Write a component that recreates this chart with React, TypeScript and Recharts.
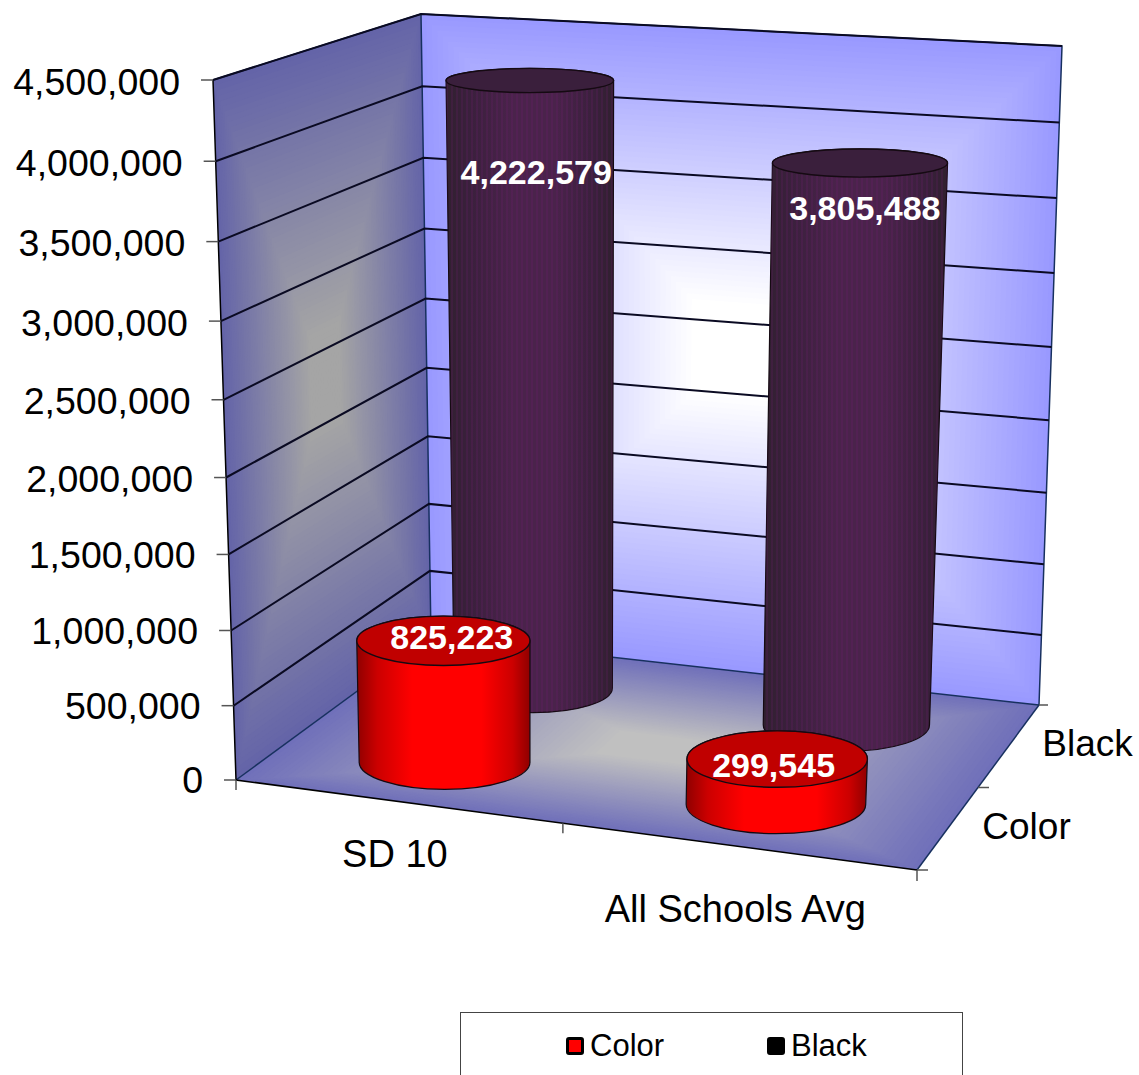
import {
  Bar,
  BarChart,
  CartesianGrid,
  Customized,
  LabelList,
  Legend,
  XAxis,
  YAxis,
} from "recharts";

const categories = ["SD 10", "All Schools Avg"];
const colorValues = [825223, 299545];
const blackValues = [4222579, 3805488];
const yTicks = [0, 500000, 1000000, 1500000, 2000000, 2500000, 3000000, 3500000, 4000000, 4500000];
const seriesNames = ["Color", "Black"];

const chartData = categories.map((name, i) => ({
  name,
  Color: colorValues[i],
  Black: blackValues[i],
}));

const FONT = "'Liberation Sans', Arial, sans-serif";

// flat plot area used by the recharts scales, warped into the 3D box below
const PLOT = { left: 236, top: 80, width: 681, height: 700 };
const BAR_SIZE = 180;

type Pt = [number, number];

// box corners on screen
const floorFL: Pt = [236, 780];
const floorFR: Pt = [917, 870];
const floorBL: Pt = [431, 637];
const floorBR: Pt = [1039, 705];
const topFL: Pt = [213, 80];
const topFR: Pt = [954, 118];
const topBL: Pt = [421, 14];
const topBR: Pt = [1062, 46];

const DEPTH: Record<string, number> = { Color: 0.25, Black: 0.75 };

const mix = (a: Pt, b: Pt, t: number): Pt => [a[0] + (b[0] - a[0]) * t, a[1] + (b[1] - a[1]) * t];
const quad = (a: Pt, b: Pt, c: Pt, d: Pt, u: number, t: number) => mix(mix(a, b, u), mix(d, c, u), t);

const warp = (t: number, k: number) => t - k * t * (1 - t);

// u: 0..1 across, d: 0..1 front to back, v: 0..1 up
function project(u: number, d: number, v: number): Pt {
  const uu = warp(u, 0.05);
  const vv = warp(v, 0.05);
  const floor = quad(floorFL, floorFR, floorBR, floorBL, uu, d);
  const top = quad(topFL, topFR, topBR, topBL, uu, d);
  return mix(floor, top, vv);
}

const toU = (x: number) => (x - PLOT.left) / PLOT.width;
const toV = (y: number) => (PLOT.top + PLOT.height - y) / PLOT.height;

const pts = (list: Pt[]) => list.map((p) => `${p[0].toFixed(1)},${p[1].toFixed(1)}`).join(" ");

function hex(c: number[]) {
  return `rgb(${c.map((n) => Math.round(n)).join(",")})`;
}

// rectangular "from centre" gradient made of nested quads
function Face({ corners, edge, center }: { corners: Pt[]; edge: number[]; center: number[] }) {
  const [a, b, c, d] = corners;
  const steps = 60;
  const items = [];
  for (let i = 0; i < steps; i++) {
    const t = i / steps;
    const m = t / 2;
    const poly = [
      quad(a, b, c, d, m, m),
      quad(a, b, c, d, 1 - m, m),
      quad(a, b, c, d, 1 - m, 1 - m),
      quad(a, b, c, d, m, 1 - m),
    ];
    const s = Math.min(1, t / 0.85);
    const col = edge.map((e, k) => e + (center[k] - e) * s);
    items.push(<polygon key={i} points={pts(poly)} fill={hex(col)} />);
  }
  return <g>{items}</g>;
}

function Walls() {
  const edgeStyle = { stroke: "#17305f", strokeWidth: 1.5, fill: "none" };
  const midFront = project(0.4925, 0, 0);
  const midSide = project(1, 0.5, 0);
  const axisTicks: Pt[][] = [
    [floorFL, [floorFL[0], floorFL[1] + 10]],
    [midFront, [midFront[0], midFront[1] + 10]],
    [floorFR, [floorFR[0], floorFR[1] + 11]],
    [floorFR, [floorFR[0] + 11, floorFR[1]]],
    [midSide, [midSide[0] + 11, midSide[1]]],
    [floorBR, [floorBR[0] + 9, floorBR[1]]],
  ];
  return (
    <g>
      <defs>
        <linearGradient id="redBody" x1="0" x2="1" y1="0" y2="0">
          <stop offset="0%" stopColor="#8f0000" />
          <stop offset="12%" stopColor="#cc0000" />
          <stop offset="32%" stopColor="#ff0000" />
          <stop offset="72%" stopColor="#ff0000" />
          <stop offset="90%" stopColor="#cc0000" />
          <stop offset="100%" stopColor="#8f0000" />
        </linearGradient>
        <linearGradient id="blackBody" x1="0" x2="1" y1="0" y2="0">
          <stop offset="0%" stopColor="#30202f" />
          <stop offset="14%" stopColor="#3a203c" />
          <stop offset="40%" stopColor="#4a234b" />
          <stop offset="65%" stopColor="#4a234b" />
          <stop offset="88%" stopColor="#3a203c" />
          <stop offset="100%" stopColor="#30202f" />
        </linearGradient>
        <pattern id="blackDots" width="5" height="5" patternUnits="userSpaceOnUse">
          <rect x="1" y="0" width="2" height="5" fill="#7a1a80" opacity={0.16} />
        </pattern>
      </defs>
      <Face corners={[floorBL, floorBR, topBR, topBL]} edge={[153, 153, 255]} center={[255, 255, 255]} />
      <Face corners={[floorFL, floorBL, topBL, topFL]} edge={[100, 100, 168]} center={[165, 165, 165]} />
      <Face corners={[floorFL, floorFR, floorBR, floorBL]} edge={[112, 112, 186]} center={[192, 192, 192]} />
      <polyline points={pts([topFL, topBL, topBR, floorBR])} {...edgeStyle} />
      <polyline points={pts([topBL, floorBL, floorBR])} {...edgeStyle} />
      <line x1={floorBL[0]} y1={floorBL[1]} x2={floorFL[0]} y2={floorFL[1]} {...edgeStyle} />
      <line x1={floorBR[0]} y1={floorBR[1]} x2={floorFR[0]} y2={floorFR[1]} {...edgeStyle} />
      <polyline points={pts([topFL, floorFL, floorFR])} fill="none" stroke="#000" strokeWidth={1.5} />
      {axisTicks.map((t, i) => (
        <line key={i} x1={t[0][0]} y1={t[0][1]} x2={t[1][0]} y2={t[1][1]} stroke="#555" strokeWidth={1.5} />
      ))}
      {seriesNames.map((name) => {
        const p = project(1, DEPTH[name], 0);
        return (
          <text key={name} x={p[0] + 79} y={p[1] - 3} dy="0.35em" textAnchor="middle" fontSize={37} fontFamily={FONT} fill="#000">
            {name}
          </text>
        );
      })}
    </g>
  );
}

function GridLine(props: any) {
  const v = toV(props.y1);
  if (v < 0.001) return <g key={props.index} />;
  const path = [project(0, 0, v), project(0, 1, v), project(1, 1, v)];
  return <polyline key={props.index} points={pts(path)} fill="none" stroke="#0a0a22" strokeWidth={2} />;
}

function YTick({ y, payload }: any) {
  const v = toV(y);
  const p = project(0, 0, v);
  return (
    <g>
      <line x1={p[0] - 12} y1={p[1]} x2={p[0]} y2={p[1]} stroke="#555" strokeWidth={1.5} />
      <text x={p[0] - 33} y={p[1] + 2 * v} dy="0.35em" textAnchor="end" fontSize={37.5} fontFamily={FONT} fill="#000">
        {Number(payload.value).toLocaleString("en-US")}
      </text>
    </g>
  );
}

function XTick({ x, payload }: any) {
  const u = toU(x);
  const p = project(u, 0, 0);
  return (
    <text x={p[0] - 5} y={p[1] + 46.5 + 21 * u} dy="0.35em" textAnchor="middle" fontSize={38} fontFamily={FONT} fill="#000">
      {payload.value}
    </text>
  );
}

function cylinder(name: string, bodyFill: string, topFill: string, overlay?: string) {
  return function CylinderShape(props: any) {
    const { x, y, width, height } = props;
    const d = DEPTH[name];
    const uc = toU(x + width / 2);
    const ru = width / 2 / PLOT.width;
    const vTop = toV(y);
    const vBase = toV(y + height);

    const ends = (v: number) => {
      const l = project(uc - ru, d, v);
      const r = project(uc + ru, d, v);
      const back = project(uc, d + 0.1, v);
      const front = project(uc, d - 0.1, v);
      const ry = (front[1] - back[1]) * 0.875 * (1.1 - 0.2 * d);
      const rx = ((r[0] - l[0]) / 2) * (1.01 - 0.04 * d);
      return { rx, ry, cx: (l[0] + r[0]) / 2, cy: (l[1] + r[1]) / 2 - 2.5 * (1 - v) };
    };
    const top = ends(vTop);
    const base = ends(vBase);

    const body =
      `M${top.cx - top.rx},${top.cy} L${base.cx - base.rx},${base.cy} ` +
      `A${base.rx},${base.ry} 0 0 0 ${base.cx + base.rx},${base.cy} ` +
      `L${top.cx + top.rx},${top.cy} ` +
      `A${top.rx},${top.ry} 0 0 0 ${top.cx - top.rx},${top.cy} Z`;

    return (
      <g>
        <path d={body} fill={bodyFill} stroke="#150a12" strokeWidth={1.2} />
        {overlay && <path d={body} fill={overlay} />}
        <ellipse cx={top.cx} cy={top.cy} rx={top.rx} ry={top.ry} fill={topFill} stroke="#150a12" strokeWidth={1.4} />
      </g>
    );
  };
}

// where the data labels sit relative to the top of each cylinder
const labelNudge: Record<string, Pt[]> = {
  Color: [[9, -6], [-3, 4]],
  Black: [[7, 91], [5.5, 45]],
};

function valueLabel(name: string) {
  return function ValueLabel(props: any) {
    const box = props.viewBox ?? props;
    const i = props.index ?? 0;
    const p = project(toU(box.x + box.width / 2), DEPTH[name], toV(box.y));
    const n = labelNudge[name][i];
    return (
      <text x={p[0] + n[0]} y={p[1] + n[1]} dy="0.35em" textAnchor="middle" fontSize={34} fontWeight="bold" fontFamily={FONT} fill="#fff">
        {Number(props.value).toLocaleString("en-US")}
      </text>
    );
  };
}

function LegendBox({ payload }: any) {
  const items = seriesNames.map((n) => (payload || []).find((p: any) => p.value === n)).filter(Boolean);
  const lefts = [105, 306];
  return (
    <div style={{ position: "relative", width: 501, height: 70, border: "1px solid #444", fontFamily: FONT, background: "#fff" }}>
      {items.map((item: any, i: number) => (
        <div key={item.value} style={{ position: "absolute", left: lefts[i], top: 16, height: 34, color: "#000", fontSize: 31, lineHeight: "34px", whiteSpace: "nowrap" }}>
          <span style={{ position: "absolute", left: 0, top: 8, width: 12, height: 12, border: "3px solid #000", borderRadius: 3, background: item.color }} />
          <span style={{ position: "absolute", left: 24 }}>{item.value}</span>
        </div>
      ))}
    </div>
  );
}

export default function App() {
  return (
    <div style={{ position: "absolute", left: 0, top: 0, width: 1139, height: 1075, overflow: "hidden", background: "#fff" }}>
      <BarChart
        width={1139}
        height={1075}
        data={chartData}
        barSize={BAR_SIZE}
        barGap={-BAR_SIZE}
        margin={{ left: PLOT.left - 1, top: PLOT.top, right: 1139 - PLOT.left - PLOT.width, bottom: 1075 - PLOT.top - PLOT.height - 1 }}
      >
        <Customized component={<Walls />} />
        <CartesianGrid vertical={false} horizontal={GridLine as any} {...({ zIndex: 50 } as any)} />
        <XAxis dataKey="name" height={1} axisLine={false} tickLine={false} interval={0} tick={<XTick />} />
        <YAxis width={1} domain={[0, 4500000]} ticks={yTicks} interval={0} axisLine={false} tickLine={false} tick={<YTick />} />
        <Bar dataKey="Black" fill="#000000" isAnimationActive={false} shape={cylinder("Black", "url(#blackBody)", "#3a1f3c", "url(#blackDots)")}>
          <LabelList dataKey="Black" content={valueLabel("Black")} />
        </Bar>
        <Bar dataKey="Color" fill="#FF0000" isAnimationActive={false} shape={cylinder("Color", "url(#redBody)", "#c00000")}>
          <LabelList dataKey="Color" content={valueLabel("Color")} />
        </Bar>
        <Legend
          layout="vertical"
          align="center"
          verticalAlign="middle"
          content={<LegendBox />}
          wrapperStyle={{ left: 460, top: 1012, width: 503, height: 70 }}
        />
      </BarChart>
    </div>
  );
}
